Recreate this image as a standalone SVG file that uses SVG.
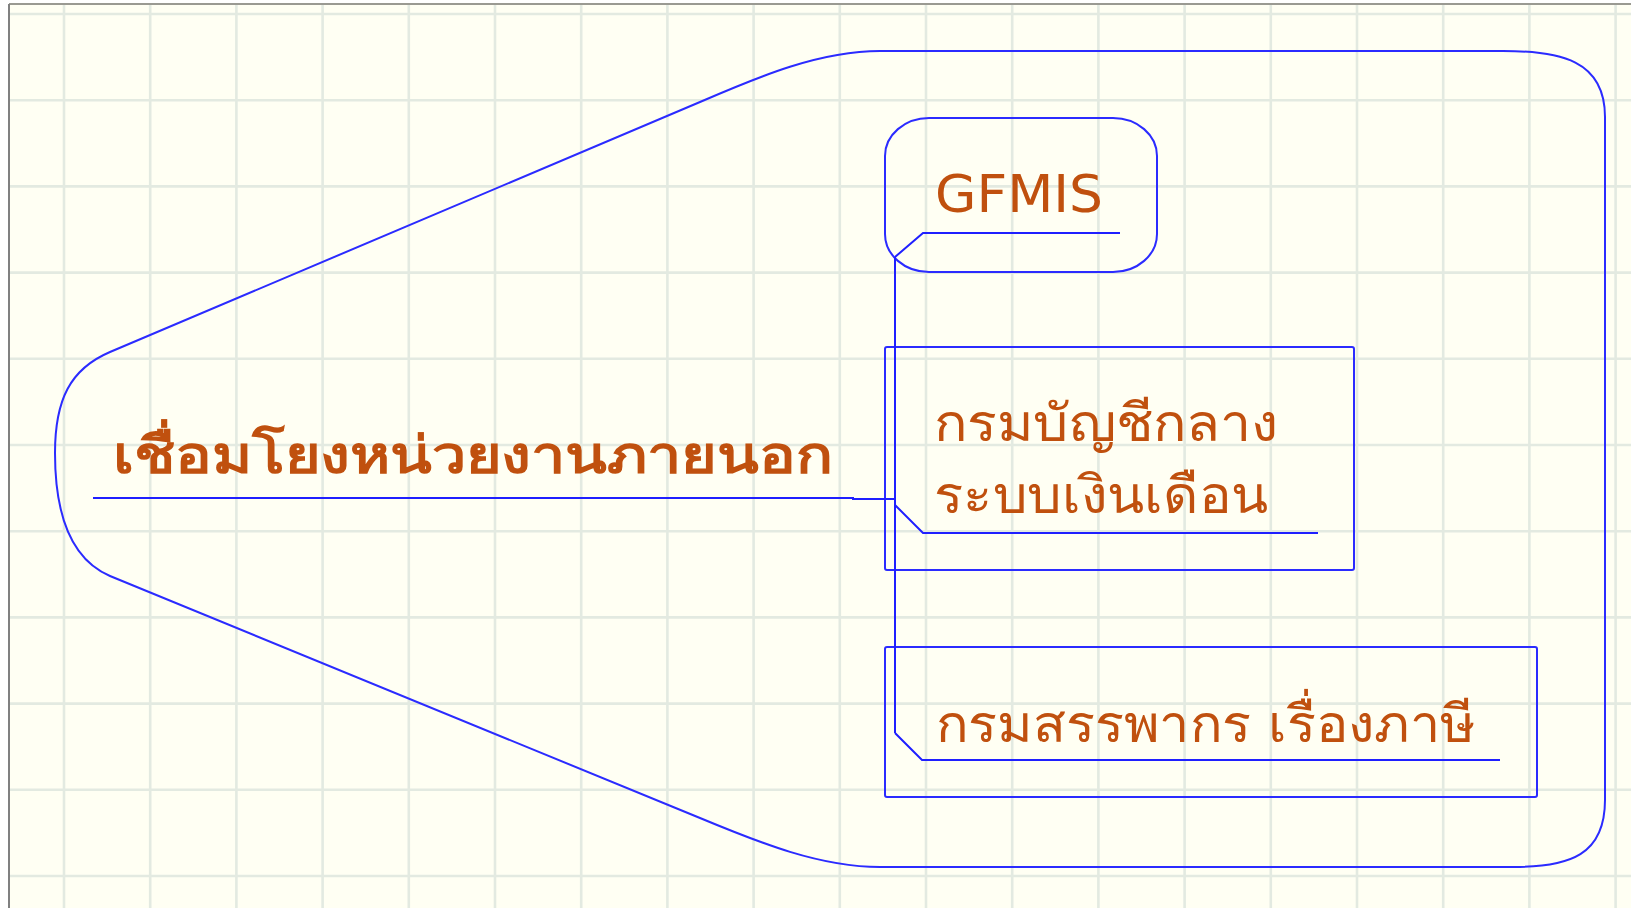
<svg xmlns="http://www.w3.org/2000/svg" width="1631" height="908" viewBox="0 0 1631 908">
<style>
.grid{stroke:#e3eae1;stroke-width:2.6;fill:none}
.shape{fill:none;stroke:#2b2bff;stroke-width:2}
.conn{fill:none;stroke:#1f1fff;stroke-width:2}
.t{fill:#c0500e;font-family:"DejaVu Sans","Noto Sans",sans-serif;font-size:52px}
.b{font-weight:bold}
</style>
<rect x="0" y="0" width="1631" height="908" fill="#ffffff"/>
<rect x="9" y="4" width="1622" height="904" fill="#fffff3"/>
<path class="grid" d="M64,4V908M150.2,4V908M236.4,4V908M322.6,4V908M408.8,4V908M495,4V908M581.2,4V908M667.4,4V908M753.6,4V908M839.8,4V908M926,4V908M1012.2,4V908M1098.4,4V908M1184.6,4V908M1270.8,4V908M1357,4V908M1443.2,4V908M1529.4,4V908M1615.6,4V908M9,14H1631M9,100.2H1631M9,186.4H1631M9,272.6H1631M9,358.8H1631M9,445H1631M9,531.2H1631M9,617.4H1631M9,703.6H1631M9,789.8H1631M9,876H1631"/>
<path d="M9,4H1631" stroke="#9a9a92" stroke-width="2"/>
<path d="M9,4V908" stroke="#808080" stroke-width="2"/>

<g id="root">
<path class="shape" d="M1503,51 C1560,51 1605,60 1605,117 V800 C1605,855 1570,867 1513,867 H880 C820,867 760,843 700,818 L110,576 C68,558 55,510 55,453 C55,400 70,369 110,352 L700,102 C760,76 820,51 880,51 Z"/>
<text class="t b" x="113" y="473" textLength="719" lengthAdjust="spacingAndGlyphs">เชื่อมโยงหน่วยงานภายนอก</text>
</g>

<g id="gfmis">
<rect class="shape" x="885" y="118" width="272" height="154" rx="44" ry="38"/>
<text class="t" x="935" y="212" textLength="168" lengthAdjust="spacingAndGlyphs">GFMIS</text>
</g>

<g id="cgd">
<rect class="shape" x="885" y="347" width="469" height="223" rx="2"/>
<text class="t" x="934" y="441" textLength="344" lengthAdjust="spacingAndGlyphs">กรมบัญชีกลาง</text>
<text class="t" x="934" y="513" textLength="335" lengthAdjust="spacingAndGlyphs">ระบบเงินเดือน</text>
</g>

<g id="rd">
<rect class="shape" x="885" y="647" width="652" height="150" rx="2"/>
<text class="t" x="936" y="742" textLength="539" lengthAdjust="spacingAndGlyphs">กรมสรรพากร เรื่องภาษี</text>
</g>

<g id="connectors">
<path class="conn" d="M93,498H853V499H895"/>
<path class="conn" d="M895,257V733"/>
<path class="conn" d="M895,257L923,233H1120"/>
<path class="conn" d="M895,505L923,533H1318"/>
<path class="conn" d="M895,733L922,760H1500"/>
</g>
</svg>
